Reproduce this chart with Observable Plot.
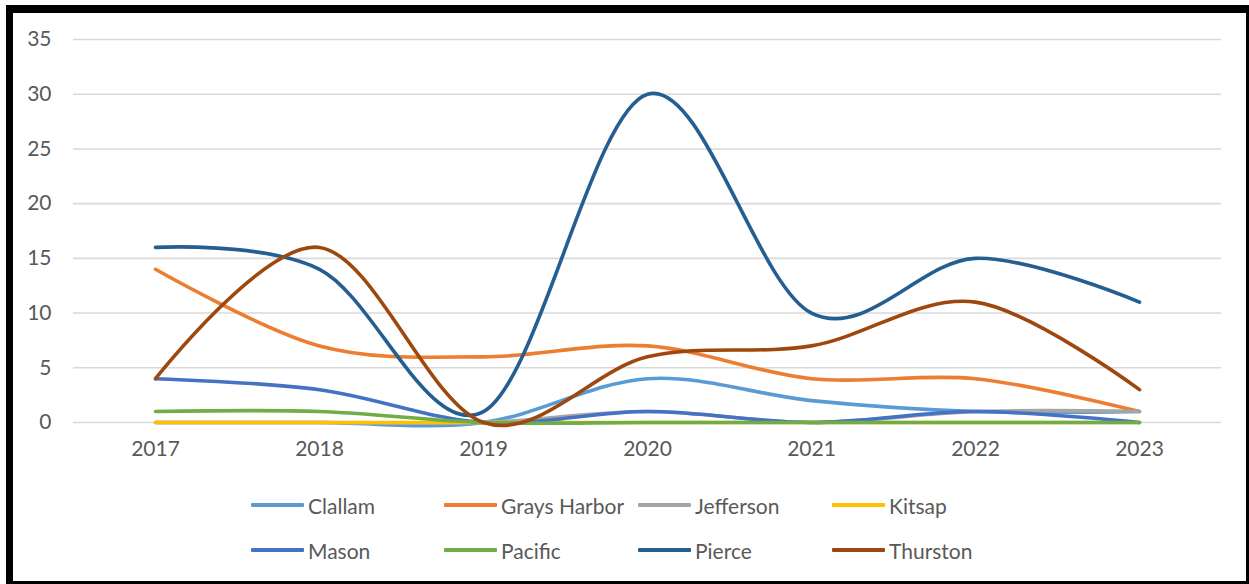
<!DOCTYPE html>
<html>
<head>
<meta charset="utf-8">
<script src="https://cdn.jsdelivr.net/npm/d3@7"></script>
<script src="https://cdn.jsdelivr.net/npm/@observablehq/plot@0.6"></script>
<style>
  html, body { margin: 0; padding: 0; background: #fff; }
  #wrap { position: relative; width: 1249px; height: 584px; overflow: hidden; font-family: Lato, "Open Sans", sans-serif; }
  #frame { position: absolute; left: 6px; top: 5px; border-style: solid; border-color: #000; border-width: 8px 3px 3px 7px; box-sizing: border-box; width: 1243px; height: 579px; pointer-events: none; }
  #chart { position: absolute; left: 0; top: 0; }
  .leg { position: absolute; display: flex; align-items: center; font-size: 21px; color: #595959; white-space: nowrap; }
  .leg .sw { width: 53px; height: 4px; margin-right: 4px; border-radius: 1px; }
</style>
</head>
<body>
<div id="wrap">
  <div id="chart"></div>
  <div id="legend"></div>
  <div id="frame"></div>
</div>
<script>
const years = ["2017", "2018", "2019", "2020", "2021", "2022", "2023"];
const counties = ["Clallam", "Grays Harbor", "Jefferson", "Kitsap", "Mason", "Pacific", "Pierce", "Thurston"];
const colors = ["#5B9BD5", "#ED7D31", "#A5A5A5", "#FFC000", "#4472C4", "#70AD47", "#255E91", "#9E480E"];
const clallam     = [0, 0, 0, 4, 2, 1, 1];
const graysHarbor = [14, 7, 6, 7, 4, 4, 1];
const jefferson   = [0, 0, 0, 1, 0, 1, 1];
const kitsap      = [0, 0, 0, 0, 0, 0, 0];
const mason       = [4, 3, 0, 1, 0, 1, 0];
const pacific     = [1, 1, 0, 0, 0, 0, 0];
const pierce      = [16, 14, 1, 30, 10, 15, 11];
const thurston    = [4, 16, 0, 6, 7, 11, 3];
const yTicks = [0, 5, 10, 15, 20, 25, 30, 35];

const series = [clallam, graysHarbor, jefferson, kitsap, mason, pacific, pierce, thurston];
const rows = [];
counties.forEach((c, i) => years.forEach((y, j) => rows.push({county: c, year: y, value: series[i][j]})));

const chart = Plot.plot({
  width: 1249,
  height: 470,
  marginLeft: 73,
  marginRight: 28,
  marginTop: 39,
  marginBottom: 48,
  style: {fontFamily: "Lato, 'Open Sans', sans-serif", fontSize: "21px", color: "#595959", background: "transparent"},
  x: {type: "point", domain: years, padding: 0.5, label: null},
  y: {domain: [0, 35], ticks: yTicks, label: null},
  color: {domain: counties, range: colors},
  marks: [
    Plot.gridY(yTicks, {stroke: "#D9D9D9", strokeOpacity: 1, strokeWidth: 1.6}),
    Plot.axisY(yTicks, {tickSize: 0, tickPadding: 22, label: null, fill: "#595959", fontSize: 21}),
    Plot.axisX({tickSize: 0, tickPadding: 19, label: null, fill: "#595959", fontSize: 21}),
    Plot.lineY(rows, {x: "year", y: "value", z: "county", stroke: "county", strokeWidth: 3.6, curve: "cardinal", tension: 0})
  ]
});
document.getElementById("chart").appendChild(chart);

const legend = document.getElementById("legend");
const colX = [251, 444, 638, 832];
const rowY = [505, 550];
counties.forEach((c, i) => {
  const d = document.createElement("div");
  d.className = "leg";
  d.style.left = colX[i % 4] + "px";
  d.style.top = (rowY[Math.floor(i / 4)] - 13) + "px";
  d.style.height = "26px";
  const sw = document.createElement("div");
  sw.className = "sw";
  sw.style.background = colors[i];
  d.appendChild(sw);
  const t = document.createElement("span");
  t.textContent = c;
  d.appendChild(t);
  legend.appendChild(d);
});
</script>
</body>
</html>
